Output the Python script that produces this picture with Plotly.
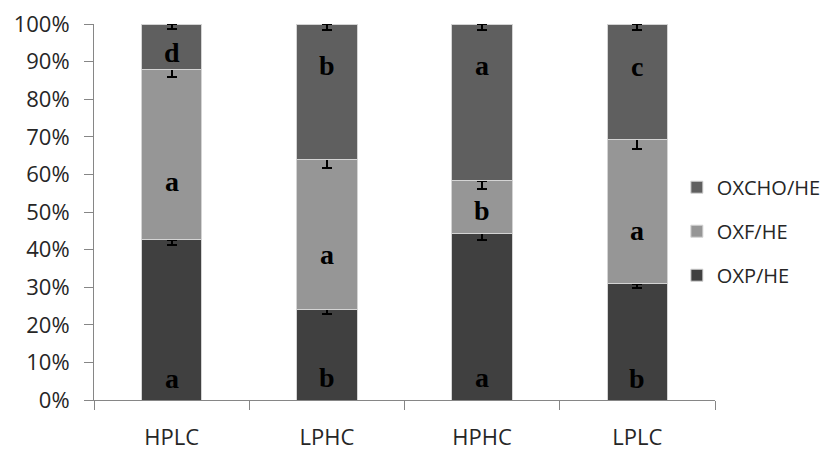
import plotly.graph_objects as go

categories = ["HPLC", "LPHC", "HPHC", "LPLC"]
oxp_he = [42.6, 24.1, 44.3, 30.9]
oxf_he = [45.4, 39.9, 14.0, 38.4]
oxcho_he = [12.0, 36.0, 41.7, 30.7]
oxp_err = [1.3, 1.3, 1.8, 1.1]
oxf_err = [2.1, 2.3, 2.2, 2.6]
oxcho_err = [1.3, 1.6, 1.6, 1.6]

letters_oxp = ["a", "b", "a", "b"]
letters_oxf = ["a", "a", "b", "a"]
letters_oxcho = ["d", "b", "a", "c"]
# annotation placement (percent of axis)
label_y_oxp = [5.8, 6.1, 6.0, 5.8]
label_y_oxf = [58.0, 38.6, 50.5, 45.0]
label_y_oxcho = [92.3, 89.0, 89.0, 88.6]

series = [
    ("OXP/HE", oxp_he, oxp_err, "#404040", 3),
    ("OXF/HE", oxf_he, oxf_err, "#969696", 2),
    ("OXCHO/HE", oxcho_he, oxcho_err, "#5f5f5f", 1),
]

fig = go.Figure()
for name, vals, err, col, rank in series:
    fig.add_trace(go.Bar(
        x=categories, y=vals, name=name, legendgroup=name, legendrank=rank,
        marker=dict(color=col, line=dict(color="#d4d4d4", width=1)),
        error_y=dict(type="data", symmetric=False, array=[0] * len(vals),
                     arrayminus=err, color="black", thickness=2, width=5),
    ))

ann = []
for lets, ys in [(letters_oxp, label_y_oxp), (letters_oxf, label_y_oxf), (letters_oxcho, label_y_oxcho)]:
    for c, t, yy in zip(categories, lets, ys):
        ann.append(dict(x=c, y=yy, xref="x", yref="y", text="<b>%s</b>" % t,
                        showarrow=False,
                        font=dict(family="Liberation Serif", size=28, color="black")))

fig.update_layout(
    width=834, height=450,
    margin=dict(l=86, r=127, t=16, b=58, autoexpand=False),
    barmode="stack", bargap=0.61,
    plot_bgcolor="white", paper_bgcolor="white",
    font=dict(family="Open Sans", size=22, color="#262626"),
    showlegend=True,
    legend=dict(x=0.802, xref="container", xanchor="left", y=0.504, yref="container",
                yanchor="middle",
                traceorder="grouped", tracegroupgap=15,
                font=dict(family="Open Sans", size=20, color="#262626"),
                bgcolor="rgba(0,0,0,0)"),
    annotations=ann,
    xaxis=dict(showline=True, linecolor="#868686", linewidth=1,
               ticks="outside", ticklen=9, tickcolor="#868686",
               tickson="boundaries", ticklabelstandoff=18, automargin=False,
               ticklabeloverflow="allow",
               showgrid=False, range=[-0.5, 3.5]),
    yaxis=dict(range=[0, 100], dtick=10, ticksuffix="%", automargin=False,
               ticklabeloverflow="allow",
               showline=True, linecolor="#868686", linewidth=1,
               ticks="outside", ticklen=9, tickcolor="#868686",
               showgrid=False, zeroline=False, ticklabelstandoff=10),
)

fig.write_html("out.html")
